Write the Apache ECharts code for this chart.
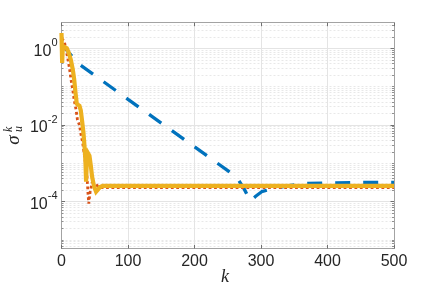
<!DOCTYPE html>
<html><head><meta charset="utf-8">
<script src="https://cdn.jsdelivr.net/npm/echarts@6/dist/echarts.min.js"></script>
<style>html,body{margin:0;padding:0;background:#fff}#c{width:436px;height:298px}</style>
</head><body><div id="c"></div>
<script>
// ---- data ----
const xTickValues = [0, 100, 200, 300, 400, 500];
const yMajorTicks = [1e-4, 1e-2, 1];
const yMin = 6.0e-6, yMax = 4.66;

const blueK = [0, 8, 26, 60, 100, 150, 200, 250, 265, 275, 284, 292, 301, 320, 340, 360, 400, 450, 500];
const blueV = [1.20, 0.89, 0.39, 0.148, 0.0468, 0.0112, 2.69e-3, 6.46e-4, 3.98e-4, 2.09e-4, 1.05e-4, 1.38e-4, 1.82e-4, 2.24e-4, 2.57e-4, 2.95e-4, 3.09e-4, 3.16e-4, 3.16e-4];

const redK = [0, 4, 9, 12, 14, 17, 19, 22, 24, 27, 29, 32, 34, 36, 38, 39, 40, 41, 43, 46, 50, 55, 60, 100, 200, 300, 400, 500];
const redV = [1.78, 1.58, 0.60, 0.30, 0.166, 0.081, 0.045, 0.0245, 0.0135, 0.0100, 6.0e-3, 3.3e-3, 1.82e-3, 1.0e-3, 5.5e-4, 3.0e-4, 1.48e-4, 8.9e-5, 1.78e-4, 3.16e-4, 3.0e-4, 2.5e-4, 2.34e-4, 2.34e-4, 2.34e-4, 2.34e-4, 2.34e-4, 2.34e-4];

const yelK = [0, 1, 2, 5, 8, 11, 14, 17, 19, 21, 23, 25, 27, 29, 31, 33, 35, 36, 37, 38, 40, 42, 44, 46, 49, 52, 55, 58, 62, 100, 200, 300, 400, 500];
const yelV = [2.51, 0.417, 1.15, 1.15, 1.0, 0.76, 0.50, 0.28, 0.158, 0.0708, 0.0355, 0.0339, 0.0316, 0.024, 0.0126, 6.3e-3, 2.24e-3, 1.12e-3, 3.3e-4, 1.12e-3, 1.82e-3, 1.58e-3, 8.9e-4, 4.5e-4, 2.5e-4, 1.82e-4, 2.1e-4, 2.4e-4, 2.57e-4, 2.57e-4, 2.57e-4, 2.57e-4, 2.57e-4, 2.57e-4];

// minor log positions
const yMinorTicks = [];
for (let n = -6; n <= 0; n++) {
  for (let m = 1; m <= 9; m++) {
    const v = m * Math.pow(10, n);
    if (v >= yMin && v <= yMax && !(m === 1 && (n === 0 || n === -2 || n === -4))) yMinorTicks.push(v);
  }
}

const zip = (a, b) => a.map((v, i) => [v, b[i]]);
const TXT = '#262626', AX = '#a3a3a3', SANS = 'Liberation Sans, Arial, Helvetica, sans-serif', SERIF = 'Liberation Serif, Times New Roman, serif';

const grid = {left: 61.5, top: 22.7, width: 332.5, height: 225.8};

function yAx(pos, opts) {
  return Object.assign({
    type: 'log', logBase: 10, min: yMin, max: yMax, position: pos,
    axisLine: {show: true, lineStyle: {color: AX, width: 1}},
    axisTick: {show: false},
    axisLabel: {show: false},
    splitLine: {show: false},
    minorTick: {show: false}, minorSplitLine: {show: false}
  }, opts);
}

const option = {
  animation: false,
  backgroundColor: '#fff',
  grid: grid,
  xAxis: [
    {type: 'value', min: 0, max: 500, interval: 100, position: 'bottom',
     axisLine: {show: true, lineStyle: {color: AX, width: 1}},
     axisTick: {show: true, inside: true, length: 3.5, lineStyle: {color: '#707070'}},
     axisLabel: {show: true, color: TXT, fontSize: 16, fontFamily: SANS, margin: 5},
     splitLine: {show: true, lineStyle: {color: '#e4e4e4', width: 1}}},
    {type: 'value', min: 0, max: 500, interval: 100, position: 'top',
     axisLine: {show: true, lineStyle: {color: AX, width: 1}},
     axisTick: {show: true, inside: true, length: 3.5, lineStyle: {color: '#707070'}},
     axisLabel: {show: false}, splitLine: {show: false}}
  ],
  yAxis: [
    yAx('left', {
      axisTick: {show: true, inside: true, length: 3.5, customValues: yMajorTicks, lineStyle: {color: '#707070'}},
      axisLabel: {show: true, customValues: yMajorTicks, margin: 4, lineHeight: 22,
        formatter: function (v) { return '{b|10}{s|' + Math.round(Math.log10(v)) + '}'; },
        rich: {
          b: {fontSize: 16, fontFamily: SANS, color: TXT, lineHeight: 22, verticalAlign: 'bottom'},
          s: {fontSize: 11, fontFamily: SANS, color: TXT, lineHeight: 22, verticalAlign: 'top'}
        }},
      splitLine: {show: true, lineStyle: {color: '#e4e4e4', width: 1}}
    }),
    yAx('left', {
      axisLine: {show: false},
      axisTick: {show: true, inside: true, length: 2, customValues: yMinorTicks, lineStyle: {color: '#909090'}},
      splitLine: {show: true, lineStyle: {color: '#e8e8e8', width: 1, type: [2, 2]}}
    }),
    yAx('right', {
      axisTick: {show: true, inside: true, length: 3.5, customValues: yMajorTicks, lineStyle: {color: '#707070'}}
    }),
    yAx('right', {
      axisLine: {show: false},
      axisTick: {show: true, inside: true, length: 2, customValues: yMinorTicks, lineStyle: {color: '#909090'}}
    })
  ],
  series: [
    {type: 'line', name: 'blue', xAxisIndex: 0, yAxisIndex: 0, showSymbol: false, z: 3,
     data: zip(blueK, blueV),
     lineStyle: {color: '#0072BD', width: 3.3, type: [15, 13], cap: 'butt'}},
    {type: 'line', name: 'red', xAxisIndex: 0, yAxisIndex: 0, showSymbol: false, z: 4,
     data: zip(redK, redV),
     lineStyle: {color: '#D95319', width: 2.8, type: [2.8, 2.6], cap: 'butt'}},
    {type: 'line', name: 'yellow', xAxisIndex: 0, yAxisIndex: 0, showSymbol: false, z: 5,
     data: zip(yelK, yelV),
     lineStyle: {color: '#EDB120', width: 4.2, join: 'miter'}}
  ],
  graphic: [
    {type: 'text', left: 221, top: 268,
     style: {text: 'k', font: 'italic 18px ' + SERIF, fill: TXT}},
    {type: 'group', x: 14, y: 140, rotation: Math.PI / 2,
     children: [
       {type: 'text', x: 0, y: 0, style: {text: 'σ', font: 'italic 19px ' + SERIF, fill: TXT, align: 'center', verticalAlign: 'middle'}},
       {type: 'text', x: 8, y: -5, style: {text: 'k', font: 'italic 12px ' + SERIF, fill: TXT, align: 'left', verticalAlign: 'middle'}},
       {type: 'text', x: 8, y: 5, style: {text: 'u', font: 'italic 12px ' + SERIF, fill: TXT, align: 'left', verticalAlign: 'middle'}}
     ]}
  ]
};
const chart = echarts.init(document.getElementById('c'), null, {renderer: 'canvas'});
chart.setOption(option);
</script>
</body></html>
